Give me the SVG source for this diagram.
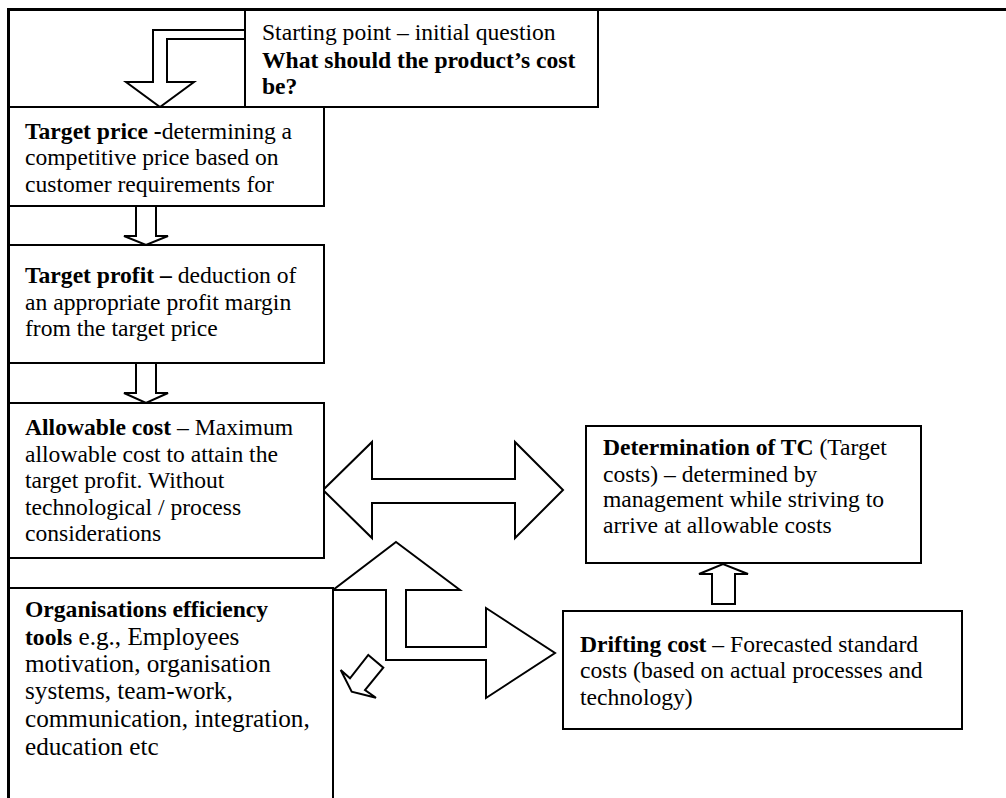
<svg xmlns="http://www.w3.org/2000/svg" width="1006" height="798" viewBox="0 0 1006 798">
  <style>
    .box { fill: #ffffff; stroke: #000000; stroke-width: 2; }
    .arrow { fill: #ffffff; stroke: #000000; stroke-width: 2; stroke-linejoin: miter; }
    .frame { fill: none; stroke: #000000; stroke-width: 3; }
    text { font-family: "Liberation Serif", "Times New Roman", serif; font-size: 23.6px; fill: #000000; }
    .b { font-weight: bold; }
    .big text { font-size: 25.2px; }
    .big text .b { font-size: 23.6px; }
  </style>

  <!-- outer frame: top and left edges -->
  <path class="frame" d="M8.5,798 L8.5,9.5 L1006,9.5"/>

  <g id="connectors">
    <!-- bent arrow from the starting question into the target price -->
    <path class="arrow" d="M245,30 L153,30 L153,82 L126,82 L160,107 L194,82 L167,82 L167,39 L245,39 Z"/>
    <!-- target price to target profit -->
    <path class="arrow" d="M136,206 L136,236 L124,236 L146,245 L168,236 L156,236 L156,206 Z"/>
    <!-- target profit to allowable cost -->
    <path class="arrow" d="M136,363 L136,393 L124,393 L146,403 L168,393 L156,393 L156,363 Z"/>
    <!-- two-way arrow between allowable cost and target costs -->
    <path class="arrow" d="M323,490 L372,442 L372,479 L515,479 L515,442 L563,490 L515,538 L515,503 L372,503 L372,538 Z"/>
    <!-- arrow branching up to allowable cost and right to drifting cost -->
    <path class="arrow" d="M396,542 L460,590 L406,590 L406,647 L486,647 L486,608 L555,653 L486,698 L486,660 L386,660 L386,590 L333,590 Z"/>
    <!-- small tilted arrow into the efficiency tools -->
    <path class="arrow" d="M368.3,655 L383.3,667.7 L365,690 L376,697.7 L351.7,691.7 L340.7,670 L350,678.3 Z"/>
    <!-- drifting cost up to target costs -->
    <path class="arrow" d="M712,604 L712,574 L699,574 L723,564 L748,574 L735,574 L735,604 Z"/>
  </g>

  <g id="start">
    <rect class="box" x="245" y="10" width="353" height="97"/>
    <text x="262" y="40">Starting point – initial question</text>
    <text x="262" y="68" class="b">What should the product’s cost</text>
    <text x="262" y="94" class="b">be?</text>
  </g>

  <g id="target-price">
    <rect class="box" x="9" y="107" width="315" height="99"/>
    <text x="25" y="139"><tspan class="b">Target price -</tspan>determining a</text>
    <text x="25" y="165">competitive price based on</text>
    <text x="25" y="192">customer requirements for</text>
  </g>

  <g id="target-profit">
    <rect class="box" x="9" y="245" width="315" height="118"/>
    <text x="25" y="283"><tspan class="b">Target profit –</tspan> deduction of</text>
    <text x="25" y="310">an appropriate profit margin</text>
    <text x="25" y="336">from the target price</text>
  </g>

  <g id="allowable-cost">
    <rect class="box" x="9" y="403" width="315" height="155"/>
    <text x="25" y="435"><tspan class="b">Allowable cost</tspan> – Maximum</text>
    <text x="25" y="462">allowable cost to attain the</text>
    <text x="25" y="488">target profit. Without</text>
    <text x="25" y="515">technological / process</text>
    <text x="25" y="541">considerations</text>
  </g>

  <g id="efficiency-tools" class="big">
    <path class="box" d="M9,798 L9,588 L333,588 L333,798"/>
    <text x="25" y="617"><tspan class="b">Organisations efficiency</tspan></text>
    <text x="25" y="645"><tspan class="b">tools</tspan> e.g., Employees</text>
    <text x="25" y="672">motivation, organisation</text>
    <text x="25" y="699">systems, team-work,</text>
    <text x="25" y="727">communication, integration,</text>
    <text x="25" y="755">education etc</text>
  </g>

  <g id="target-costs">
    <rect class="box" x="586" y="426" width="335" height="137"/>
    <text x="603" y="455"><tspan class="b">Determination of TC</tspan> (Target</text>
    <text x="603" y="482">costs) – determined by</text>
    <text x="603" y="507">management while striving to</text>
    <text x="603" y="533">arrive at allowable costs</text>
  </g>

  <g id="drifting-cost">
    <rect class="box" x="563" y="611" width="399" height="118"/>
    <text x="580" y="652"><tspan class="b">Drifting cost</tspan> – Forecasted standard</text>
    <text x="580" y="678">costs (based on actual processes and</text>
    <text x="580" y="705">technology)</text>
  </g>
</svg>
